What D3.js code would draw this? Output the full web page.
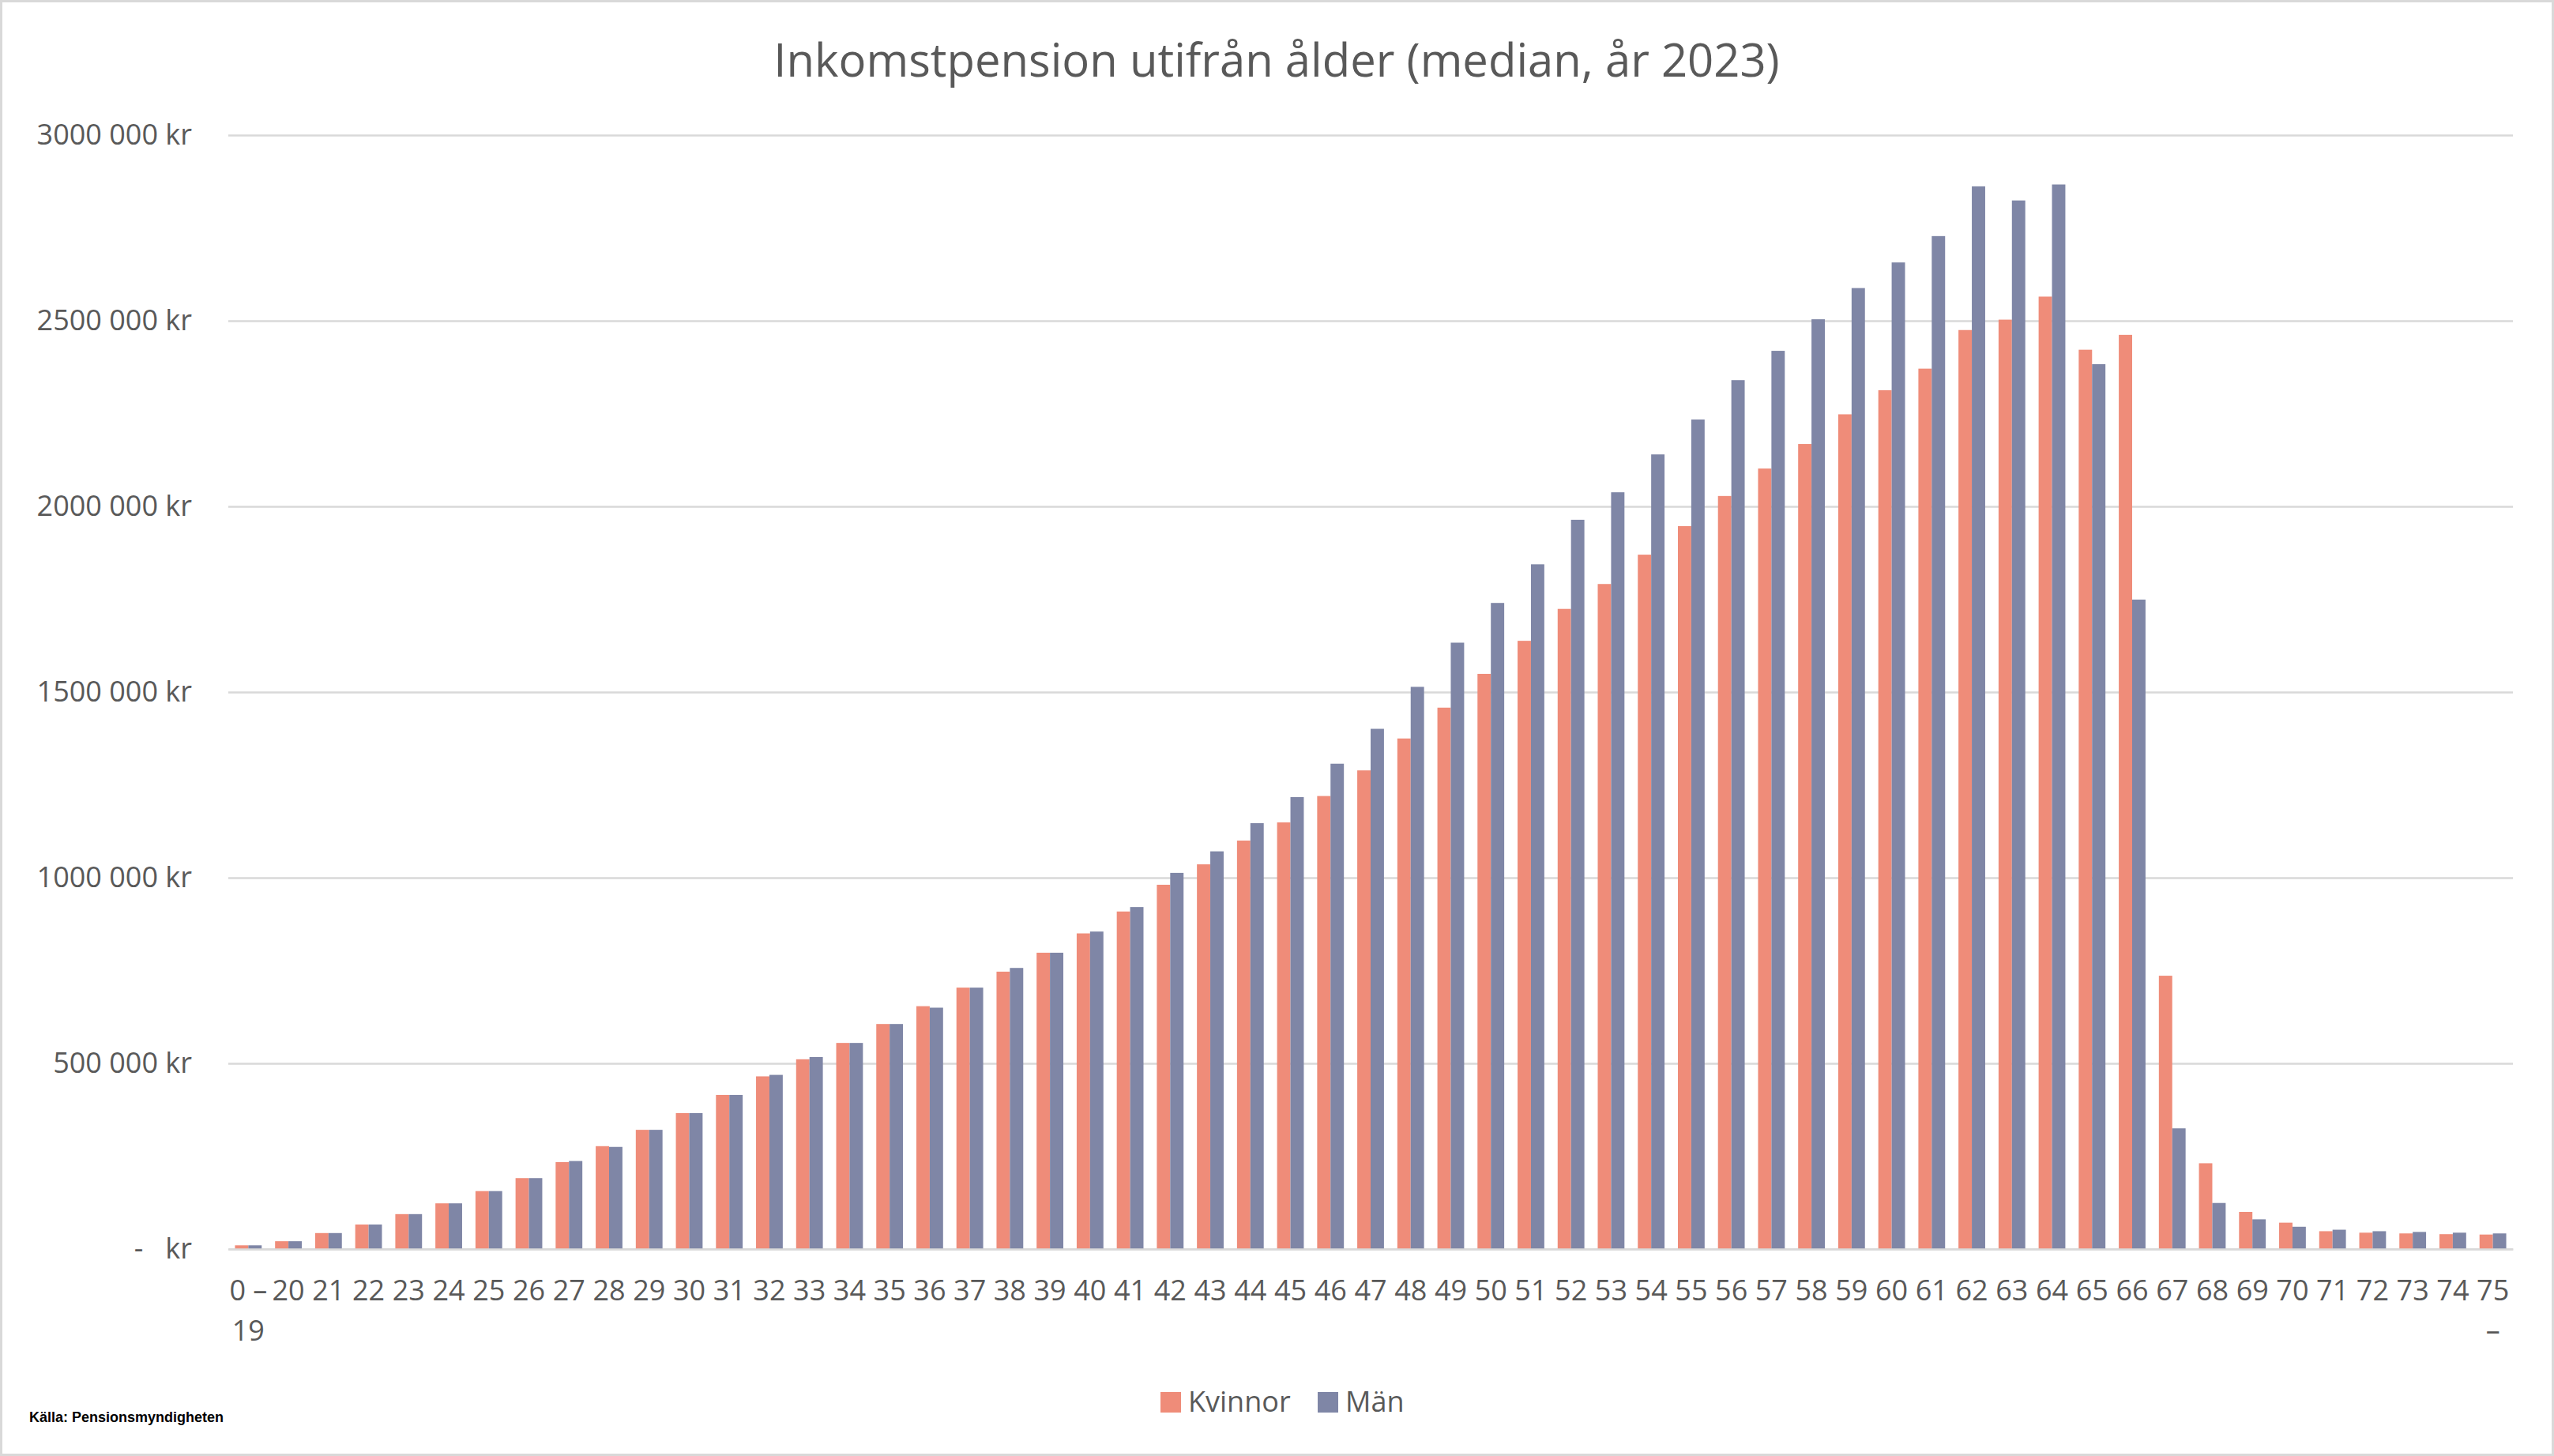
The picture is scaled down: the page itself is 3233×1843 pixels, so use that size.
<!DOCTYPE html>
<html>
<head>
<meta charset="utf-8">
<script src="https://cdn.jsdelivr.net/npm/d3@7"></script>
<style>
  html, body { margin: 0; padding: 0; background: #fff; }
  svg { display: block; }
</style>
</head>
<body>
<script>
const title = "Inkomstpension utifrån ålder (median, år 2023)";
const source = "Källa: Pensionsmyndigheten";
const seriesNames = ["Kvinnor", "Män"];
const categories = ["0 – 19","20","21","22","23","24","25","26","27","28","29","30","31","32","33","34","35","36","37","38","39","40","41","42","43","44","45","46","47","48","49","50","51","52","53","54","55","56","57","58","59","60","61","62","63","64","65","66","67","68","69","70","71","72","73","74","75 –"];
const kvinnor = [10000,21000,43000,66000,94000,123000,156000,191000,234000,277000,321000,366000,415000,465000,511000,555000,606000,654000,704000,747000,798000,850000,909000,981000,1036000,1100000,1149000,1220000,1289000,1375000,1458000,1549000,1638000,1724000,1791000,1870000,1947000,2028000,2102000,2168000,2248000,2313000,2371000,2475000,2503000,2565000,2422000,2462000,736000,231000,100000,71000,48000,44000,42000,40000,39000];
const man = [10000,21000,43000,66000,94000,123000,156000,191000,237000,275000,321000,366000,415000,469000,517000,555000,606000,650000,704000,757000,798000,855000,921000,1013000,1071000,1147000,1217000,1307000,1401000,1514000,1633000,1740000,1844000,1964000,2038000,2140000,2234000,2340000,2419000,2504000,2588000,2657000,2728000,2862000,2824000,2867000,2383000,1749000,325000,124000,80000,60000,52000,48000,46000,44000,42000];
const yTicks = [0, 500000, 1000000, 1500000, 2000000, 2500000, 3000000];
const yTickLabels = ["-   kr", "500 000 kr", "1000 000 kr", "1500 000 kr", "2000 000 kr", "2500 000 kr", "3000 000 kr"];
const colors = ["#EF8C79", "#7F86A6"];

const W = 3233, H = 1843;
const FONT = "'Open Sans', 'Liberation Sans', sans-serif";
const TEXT = "#595959";
const GRID = "#d9d9d9";
const plot = { left: 289, right: 3181, top: 171, bottom: 1581 };

const svg = d3.select("body").append("svg").attr("width", W).attr("height", H);

svg.append("rect").attr("x", 1.5).attr("y", 1.5).attr("width", W - 3).attr("height", H - 3)
  .attr("fill", "#fff").attr("stroke", GRID).attr("stroke-width", 3);

svg.append("text").attr("x", 1616).attr("y", 97).attr("text-anchor", "middle")
  .attr("font-family", FONT).attr("font-size", 58).attr("fill", TEXT).text(title);

const x = d3.scaleBand().domain(categories).range([plot.left, plot.right]).paddingInner(0).paddingOuter(0);
const xs = d3.scaleBand().domain(seriesNames).range([0, x.bandwidth()]).paddingInner(0).paddingOuter(0.5);
const y = d3.scaleLinear().domain([0, 3000000]).range([plot.bottom, plot.top]);

// gridlines + y labels
const yAxis = d3.axisLeft(y).tickValues(yTicks)
  .tickSize(-(plot.right - plot.left)).tickPadding(46)
  .tickFormat((d, i) => yTickLabels[i]);
const gy = svg.append("g").attr("transform", `translate(${plot.left},0)`).call(yAxis);
gy.select(".domain").remove();
gy.selectAll(".tick line").attr("stroke", GRID).attr("stroke-width", 2.5);
gy.selectAll(".tick text").attr("font-family", FONT).attr("font-size", 36).attr("fill", TEXT)
  .attr("xml:space", "preserve").style("white-space", "pre");

// bars
const data = categories.map((c, i) => ({ cat: c, vals: [kvinnor[i], man[i]] }));
const groups = svg.append("g").selectAll("g").data(data).join("g")
  .attr("transform", d => `translate(${x(d.cat)},0)`);
groups.selectAll("rect").data(d => d.vals.map((v, j) => ({ s: seriesNames[j], v, j }))).join("rect")
  .attr("x", d => xs(d.s)).attr("width", xs.bandwidth())
  .attr("y", d => y(d.v)).attr("height", d => y(0) - y(d.v))
  .attr("fill", d => colors[d.j]);

// x axis
const xAxis = d3.axisBottom(x).tickSize(0).tickPadding(0);
const gx = svg.append("g").attr("transform", `translate(0,${plot.bottom})`).call(xAxis);
gx.select(".domain").attr("stroke", GRID).attr("stroke-width", 2.5);
gx.selectAll(".tick text").attr("font-family", FONT).attr("font-size", 36).attr("fill", TEXT)
  .attr("dy", null).attr("y", 65)
  .each(function (d) {
    const t = d3.select(this);
    const words = d.split(" ");
    t.text(null);
    const lines = [];
    let cur = [];
    const probe = t.append("tspan");
    words.forEach(w => {
      const test = cur.concat([w]).join(" ");
      probe.text(test);
      if (cur.length && probe.node().getComputedTextLength() > 56) {
        lines.push(cur.join(" "));
        cur = [w];
      } else cur.push(w);
    });
    lines.push(cur.join(" "));
    probe.remove();
    lines.forEach((ln, k) => {
      t.append("tspan").attr("x", 0).attr("y", 65 + k * 51).text(ln);
    });
  });

// legend
const legend = svg.append("g");
const legendItems = [{ x: 1469 }, { x: 1668 }];
seriesNames.forEach((s, i) => {
  legend.append("rect").attr("x", legendItems[i].x).attr("y", 1762).attr("width", 26).attr("height", 26)
    .attr("fill", colors[i]);
  legend.append("text").attr("x", legendItems[i].x + 35).attr("y", 1787)
    .attr("font-family", FONT).attr("font-size", 36).attr("fill", TEXT).text(s);
});

// source
svg.append("text").attr("x", 37).attr("y", 1800)
  .attr("font-family", "'Liberation Sans Narrow', 'Liberation Sans', sans-serif")
  .attr("font-weight", "bold").attr("font-size", 18).attr("fill", "#000").text(source);
</script>
</body>
</html>
